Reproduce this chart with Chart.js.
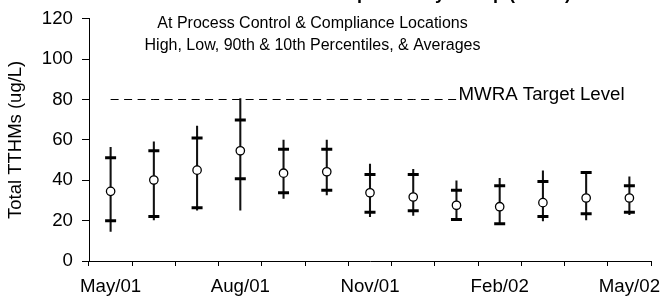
<!DOCTYPE html>
<html>
<head>
<meta charset="utf-8">
<script src="https://cdn.jsdelivr.net/npm/chart.js@4.4.1/dist/chart.umd.min.js"></script>
<style>
  html, body { margin: 0; padding: 0; background: #fff; }
  #wrap { position: relative; width: 662px; height: 297px; }
</style>
</head>
<body>
<div id="wrap"><canvas id="c" width="662" height="297"></canvas></div>
<script>
// ---- data ----
const months = ['May/01','Jun/01','Jul/01','Aug/01','Sep/01','Oct/01','Nov/01','Dec/01','Jan/02','Feb/02','Mar/02','Apr/02','May/02'];
const xTickLabels = ['May/01','','','Aug/01','','','Nov/01','','','Feb/02','','','May/02'];
const highValues = [56.3, 59.0, 66.8, 80.5, 59.9, 59.9, 48.0, 45.4, 39.7, 40.9, 44.7, 43.9, 41.7];
const p90Values  = [51.1, 54.6, 60.9, 69.8, 55.3, 55.3, 42.9, 42.9, 35.1, 37.3, 39.4, 43.9, 37.3];
const avgValues  = [34.5, 40.1, 45.0, 54.6, 43.5, 44.2, 33.8, 31.7, 27.6, 26.9, 28.9, 31.2, 31.2];
const p10Values  = [19.9, 22.1, 26.4, 40.7, 33.8, 35.1, 24.1, 24.9, 20.6, 18.5, 22.1, 23.4, 24.1];
const lowValues  = [14.7, 20.4, 25.2, 25.2, 31.0, 32.7, 21.9, 22.6, 20.0, 18.0, 19.8, 20.3, 23.0];
const targetValues = [80, 80, 80, 80, 80, 80, 80, 80, 80, null, null, null, null];
const yTicks = [0, 20, 40, 60, 80, 100, 120];

const titleText = 'Trihalomethane Compliance by Group (TTHM)';
const subtitleLines = ['At Process Control & Compliance Locations', 'High, Low, 90th & 10th Percentiles, & Averages'];
const targetLabel = 'MWRA Target Level';
const yTitle = 'Total TTHMs (ug/L)';

const FONT = "'Liberation Sans', Arial, sans-serif";

const textPlugin = {
  id: 'texts',
  afterDraw(chart) {
    const ctx = chart.ctx;
    const xs = chart.scales.x, ys = chart.scales.y;
    ctx.save();
    ctx.fillStyle = '#000';
    // title, cut off by the top edge as in the reference
    ctx.font = 'bold 18px ' + FONT;
    ctx.textAlign = 'right';
    ctx.textBaseline = 'alphabetic';
    ctx.fillText(titleText, 571, -1);
    // subtitles
    ctx.font = '16px ' + FONT;
    ctx.textAlign = 'center';
    ctx.fillText(subtitleLines[0], 312.5, 28);
    ctx.fillText(subtitleLines[1], 312.5, 50);
    // target label
    const lastIdx = targetValues.reduce((a, v, i) => v !== null ? i : a, 0);
    ctx.font = '18.7px ' + FONT;
    ctx.textAlign = 'left';
    ctx.fillText(targetLabel, xs.getPixelForValue(lastIdx) + 2, ys.getPixelForValue(targetValues[0]) + 0.5);
    ctx.restore();
  }
};

new Chart(document.getElementById('c'), {
  data: {
    labels: months,
    datasets: [
      {
        type: 'line', label: 'Average', data: avgValues, order: 0,
        showLine: false, pointStyle: 'circle', pointRadius: 4.2,
        pointBackgroundColor: '#fff', pointBorderColor: '#000', pointBorderWidth: 1.3
      },
      {
        type: 'line', label: '90th', data: p90Values, order: 1,
        showLine: false, pointStyle: 'line', pointRadius: 5.5,
        pointBorderColor: '#000', pointBorderWidth: 3, pointBackgroundColor: '#000'
      },
      {
        type: 'line', label: '10th', data: p10Values, order: 1,
        showLine: false, pointStyle: 'line', pointRadius: 5.5,
        pointBorderColor: '#000', pointBorderWidth: 3, pointBackgroundColor: '#000'
      },
      {
        type: 'bar', label: 'Range', data: months.map((m, i) => [lowValues[i], highValues[i]]), order: 2,
        backgroundColor: '#111', borderWidth: 0, barThickness: 1.4
      },
      {
        type: 'line', label: 'Target', data: targetValues, order: 3,
        borderColor: '#000', borderWidth: 1, borderDash: [8, 5.5], pointRadius: 0, fill: false
      }
    ]
  },
  options: {
    responsive: false,
    animation: false,
    devicePixelRatio: 1,
    layout: { padding: { top: 18.75, right: 11, left: 0, bottom: 0 } },
    plugins: { legend: { display: false }, tooltip: { enabled: false }, title: { display: false } },
    scales: {
      x: {
        type: 'category', offset: true,
        grid: { offset: true, drawOnChartArea: false, drawTicks: true, tickLength: 5, color: '#000', lineWidth: 1 },
        border: { display: true, color: '#000', width: 1 },
        ticks: {
          autoSkip: false, maxRotation: 0, minRotation: 0, padding: 10, color: '#000',
          font: { family: FONT, size: 18.7 },
          callback: (v, i) => xTickLabels[i]
        },
        afterFit(s) { s.height = 36; s.paddingLeft = 0; s.paddingRight = 0; }
      },
      y: {
        min: 0, max: 120,
        afterBuildTicks(s) { s.ticks = yTicks.map(v => ({ value: v })); },
        grid: { drawOnChartArea: false, drawTicks: true, tickLength: 7, color: '#000', lineWidth: 1 },
        border: { display: true, color: '#000', width: 1 },
        ticks: { padding: 9, color: '#000', font: { family: FONT, size: 18.7 } },
        title: { display: true, text: yTitle, color: '#000', font: { family: FONT, size: 18.5 }, padding: { top: 5, bottom: 0 } },
        afterFit(s) { s.width = 89; s.paddingTop = 0; s.paddingBottom = 0; }
      }
    }
  },
  plugins: [textPlugin]
});
</script>
</body>
</html>
